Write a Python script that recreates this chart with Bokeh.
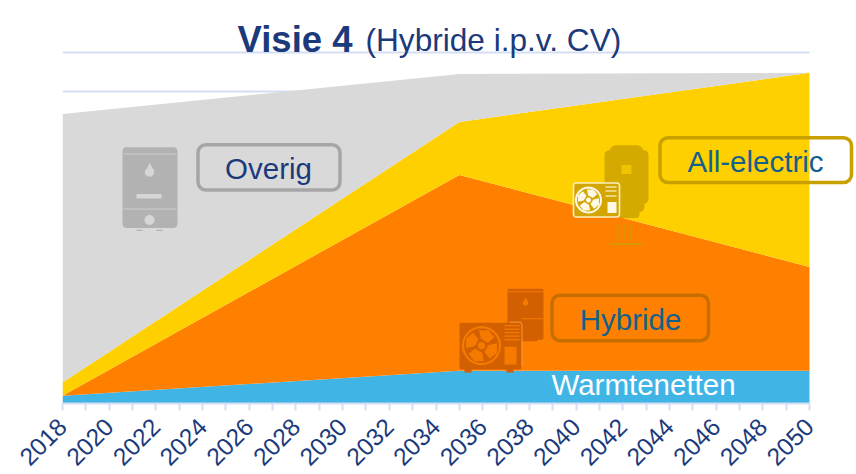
import math
from bokeh.plotting import figure
from bokeh.models import BoxAnnotation, Label, FixedTicker, Range1d, ColumnDataSource
from bokeh.embed import file_html
from bokeh.resources import INLINE

years = [2018, 2035, 2050]
warmtenetten = [0.20, 0.84, 0.84]
hybride = [0.00, 5.02, 2.66]
all_electric = [0.34, 1.36, 4.98]
overig = [6.88, 1.23, 0.00]
series = ["warmtenetten", "hybride", "all_electric", "overig"]
colors = ["#41b4e6", "#ff8000", "#ffd000", "#d9d9d9"]
major_years = list(range(2018, 2051, 2))
minor_years = list(range(2019, 2050, 2))
grid_values = [8, 9]

FONT = "Liberation Sans"
NAVY = "#1b3a7b"
TEAL = "#14608c"
W, H = 856, 476
L, R, T, B = 63, 810, 0, 404
UX = (R - L) / 32
UY = 39.1


def X(px):
    return 2018 + (px - L) / UX


def Y(py):
    return (B - py) / UY


p = figure(width=W, height=H, output_backend="svg", toolbar_location=None,
           x_range=Range1d(2018, X(W + 1)), y_range=Range1d(0, Y(T)),
           min_border_left=L - 1, min_border_right=0, min_border_top=0, min_border_bottom=H - B,
           outline_line_color=None, background_fill_color="white", border_fill_color="white")
p.margin = (0, 0, -2, 0)
p.yaxis.visible = False
p.grid.visible = False

ax = p.xaxis[0]
ax.bounds = (2018, 2050)
ax.ticker = FixedTicker(ticks=major_years, minor_ticks=minor_years)
ax.major_label_orientation = math.pi / 4
ax.major_label_text_font = FONT
ax.major_label_text_font_size = "24.5px"
ax.major_label_text_color = NAVY
ax.major_label_standoff = 12
ax.axis_line_color = "#d3def4"
ax.axis_line_width = 2
ax.major_tick_line_color = "#d3def4"
ax.minor_tick_line_color = "#d3def4"
ax.major_tick_line_width = 2
ax.minor_tick_line_width = 2
ax.major_tick_in = 0
ax.major_tick_out = 7
ax.minor_tick_in = 0
ax.minor_tick_out = 7
ax.formatter.use_scientific = False

p.segment(x0=[2018] * len(grid_values), x1=[2050] * len(grid_values), y0=grid_values, y1=grid_values,
          line_color="#d3def4", line_width=2)

source = ColumnDataSource(dict(years=years, warmtenetten=warmtenetten, hybride=hybride,
                               all_electric=all_electric, overig=overig))
p.varea_stack(series, x="years", color=colors, source=source)


def poly(pts, color, alpha=1.0):
    p.patch([X(a) for a, _ in pts], [Y(b) for _, b in pts], fill_color=color,
            fill_alpha=alpha, line_color=None)


def rrect(l, t, r, b, rad, color, outline=None, lw=1.5):
    pts = []
    corners = [(r - rad, t + rad, -90), (r - rad, b - rad, 0), (l + rad, b - rad, 90), (l + rad, t + rad, 180)]
    for cx, cy, start in corners:
        for i in range(7):
            a = math.radians(start + i * 15)
            pts.append((cx + rad * math.cos(a), cy + rad * math.sin(a)))
    xs = [X(a) for a, _ in pts]
    ys = [Y(b_) for _, b_ in pts]
    p.patch(xs, ys, fill_color=color, line_color=outline, line_width=lw)


def disc(cx, cy, r, color, outline=None, lw=1.5):
    pts = [(cx + r * math.cos(math.radians(a)), cy + r * math.sin(math.radians(a))) for a in range(0, 360, 10)]
    p.patch([X(a) for a, _ in pts], [Y(b) for _, b in pts], fill_color=color, line_color=outline, line_width=lw)


def stroke(pts, color, lw=1.5, alpha=1.0):
    p.line([X(a) for a, _ in pts], [Y(b) for _, b in pts], line_color=color, line_width=lw, line_alpha=alpha)


def flame(cx, cy, s, color):
    pts = [(0, -1), (0.25, -0.5), (0.6, 0.0), (0.62, 0.45), (0.3, 0.85), (-0.3, 0.85),
           (-0.62, 0.45), (-0.6, 0.05), (-0.3, -0.25), (-0.15, -0.5)]
    poly([(cx + a * s, cy + b * s) for a, b in pts], color)


def fan(cx, cy, r, bg, fg, lw):
    disc(cx, cy, r, bg, outline=fg, lw=lw)
    for k in range(4):
        base = 25 + k * 90
        pts = []
        for a, rr in [(-30, 0.38), (-34, 0.85), (0, 0.92), (32, 0.84), (40, 0.38)]:
            t = math.radians(base + a)
            pts.append((cx + rr * r * math.cos(t), cy + rr * r * math.sin(t)))
        poly(pts, fg)
    disc(cx, cy, r * 0.2, fg)


# boiler, Overig
GB = "#b2b2b2"
GL = "#c4c4c4"
rrect(123, 147, 178, 228, 4, GB)
stroke([(124, 154), (177, 154)], GL, 1.5)
stroke([(124, 209), (177, 209)], GL, 1.5)
flame(150, 170, 7.5, "#d6d6d6")
poly([(137, 194), (162, 194), (162, 198.5), (137, 198.5)], "#d6d6d6")
disc(150, 220, 5, "#d6d6d6")
stroke([(137, 230.5), (143, 230.5)], GB, 1.2)
stroke([(157, 230.5), (163, 230.5)], GB, 1.2)

# tank and heat pump, All-electric
G = "#d4a900"
rrect(610, 145, 644, 160, 7, G)
rrect(605, 150, 649, 204, 5, G)
rrect(612, 198, 645, 212, 5, G)
rrect(617, 208, 640, 218, 3, G)
poly([(622, 165), (632, 165), (632, 174), (622, 174)], "#f0c400")
for x0 in (619, 625, 631):
    stroke([(x0 + 1, 224), (x0 - 1, 228), (x0 + 2, 232), (x0 - 1, 236), (x0 + 1, 241)], "#d49a00", 1.4)
stroke([(611, 244), (642, 244)], "#d49a00", 2)
rrect(574, 183, 620, 217, 2.5, "#d3a500", outline="#fbeec0", lw=1.6)
fan(589, 200, 12.5, "#d3a500", "#fff8e4", 2)
poly([(608, 202), (617, 202), (617, 213), (608, 213)], "#fff8e4")
for yy in (187, 191, 196):
    stroke([(606, yy), (617, yy)], "#f7e4a0", 1.6)

# boiler and heat pump, Hybride
D = "#d25f00"
Lt = "#f57a00"
rrect(508, 289, 544, 340, 1.5, D)
stroke([(508, 292), (544, 292)], Lt, 1)
stroke([(522, 319), (544, 319)], Lt, 1)
flame(526, 302, 4.5, Lt)
stroke([(520, 340.5), (538, 340.5)], D, 2)
rrect(460, 323, 522, 370, 1.5, D, outline=None)
stroke([(510, 322.5), (521, 322.5), (522.5, 325), (522.5, 367)], "#f59030", 1.2)
fan(482, 346, 18.5, D, Lt, 2.2)
for yy in (326, 329.5, 333, 336.5, 340):
    stroke([(505, yy), (520, yy)], Lt, 1.3)
poly([(505, 347), (517, 347), (517, 365), (505, 365)], Lt)
poly([(465, 369), (472, 369), (472, 373), (465, 373)], D)
poly([(507, 369), (514, 369), (514, 373), (507, 373)], D)

# legend boxes
for l, t, r, b, c in [(198.5, 144.5, 340.5, 190, "#a6a6a6"),
                      (660.5, 137.5, 852, 182.5, "#c8a000"),
                      (552.5, 295.5, 709, 341, "#c66e00")]:
    p.add_layout(BoxAnnotation(left=X(l), right=X(r), top=Y(t), bottom=Y(b), fill_alpha=0,
                               line_color=c, line_alpha=1, line_width=3.5, border_radius=8, level="overlay"))

for txt, cx, cy, col in [("Overig", 269, 168, NAVY), ("All-electric", 756, 161, TEAL),
                         ("Hybride", 631, 320, TEAL), ("Warmtenetten", 644, 385, "white")]:
    p.add_layout(Label(x=X(cx), y=Y(cy), text=txt, text_font=FONT, text_font_size="29.5px",
                       text_color=col, text_align="center", text_baseline="middle"))

p.add_layout(Label(x=X(238), y=Y(39.5), text="Visie 4", text_font=FONT, text_font_size="36.5px",
                   text_font_style="bold", text_color=NAVY, text_align="left", text_baseline="alphabetic"))
p.add_layout(Label(x=X(366), y=Y(39.5), text="(Hybride i.p.v. CV)", text_font=FONT, text_font_size="31.6px",
                   text_color=NAVY, text_align="left", text_baseline="alphabetic"))

open("out.html", "w").write(file_html(p, INLINE))
